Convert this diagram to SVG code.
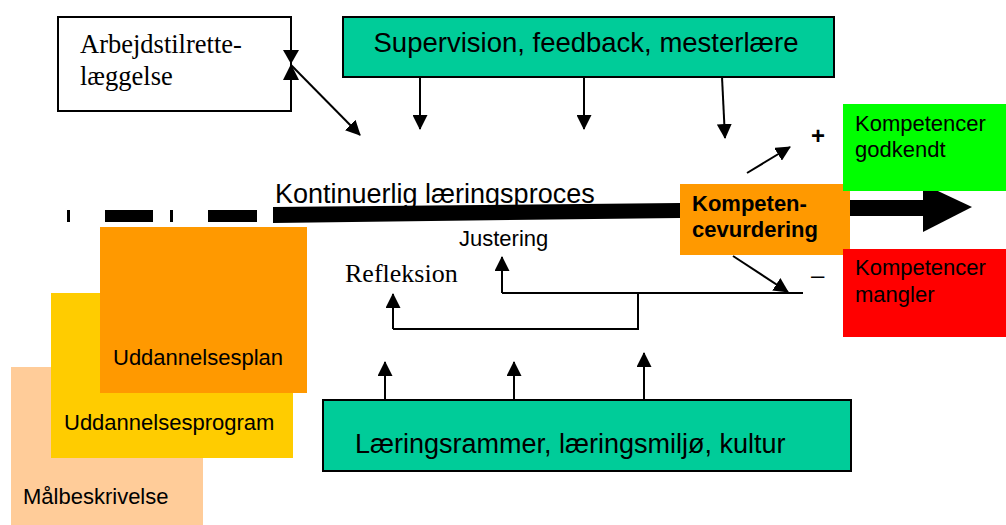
<svg xmlns="http://www.w3.org/2000/svg" width="1006" height="525" viewBox="0 0 1006 525">
<style>
.sans{font-family:"Liberation Sans",Arial,sans-serif;fill:#000}
.serif{font-family:"Liberation Serif","Times New Roman",serif;fill:#000}
.ln{stroke:#000;stroke-width:2;fill:none}
.teal{fill:#00CC99;stroke:#000;stroke-width:2}
</style>
<defs>
<marker id="ah" markerWidth="15" markerHeight="15" refX="14" refY="7.5" orient="auto" markerUnits="userSpaceOnUse">
<path d="M0,0 L15,7.5 L0,15 Z" fill="#000"/>
</marker>
</defs>
<rect width="1006" height="525" fill="#fff"/>

<g id="malbeskrivelse">
<rect x="11" y="367" width="192" height="158" fill="#FFCC99"/>
<text class="sans" x="23" y="504" font-size="22">Målbeskrivelse</text>
</g>
<g id="uddannelsesprogram">
<rect x="51" y="293" width="242" height="165" fill="#FFCC00"/>
<text class="sans" x="64" y="430" font-size="22">Uddannelsesprogram</text>
</g>
<g id="uddannelsesplan">
<rect x="100" y="227" width="207" height="166" fill="#FF9900"/>
<text class="sans" x="113" y="365" font-size="22">Uddannelsesplan</text>
</g>

<g id="arbejdstilrettelaeggelse">
<rect x="58" y="17" width="233" height="94" fill="#fff" stroke="#000" stroke-width="2"/>
<text class="serif" x="80" y="53" font-size="26.5">Arbejdstilrette-</text>
<text class="serif" x="80" y="85" font-size="26.5">læggelse</text>
</g>

<g id="supervision">
<rect class="teal" x="343" y="17" width="491" height="60"/>
<text class="sans" x="586" y="52" font-size="27.5" text-anchor="middle">Supervision, feedback, mesterlære</text>
</g>

<g id="laeringsrammer">
<rect class="teal" x="323" y="400" width="528" height="71"/>
<text class="sans" x="355" y="453" font-size="27">Læringsrammer, læringsmiljø, kultur</text>
</g>

<g id="proces">
<text class="sans" x="275" y="203" font-size="27">Kontinuerlig læringsproces</text>
<rect x="67" y="210" width="3" height="12" fill="#000"/>
<rect x="105" y="210" width="48" height="12" fill="#000"/>
<rect x="170" y="210" width="3" height="12" fill="#000"/>
<rect x="208" y="210" width="49" height="12" fill="#000"/>
<polygon points="273,207 680,203 680,218 273,223" fill="#000"/>
<rect x="850" y="200" width="74" height="16" fill="#000"/>
<polygon points="923,184 972,207 923,232" fill="#000"/>
</g>

<g id="kompetencevurdering">
<rect x="680" y="184" width="170" height="71" fill="#FF9900"/>
<text class="sans" x="692" y="211" font-size="22" font-weight="bold">Kompeten-</text>
<text class="sans" x="692" y="237" font-size="22" font-weight="bold">cevurdering</text>
</g>

<g id="godkendt">
<rect x="843" y="104" width="163" height="87" fill="#00FF00"/>
<text class="sans" x="855" y="131" font-size="22">Kompetencer</text>
<text class="sans" x="855" y="157" font-size="22">godkendt</text>
</g>

<g id="mangler">
<rect x="843" y="249" width="163" height="88" fill="#FF0000"/>
<text class="sans" x="855" y="275" font-size="22">Kompetencer</text>
<text class="sans" x="855" y="302" font-size="22">mangler</text>
</g>

<g id="labels">
<text class="sans" x="811" y="144" font-size="24" font-weight="bold">+</text>
<text class="sans" x="811" y="283" font-size="24">–</text>
<text class="sans" x="459" y="246" font-size="22">Justering</text>
<text class="serif" x="345" y="282" font-size="26">Refleksion</text>
</g>

<g id="connectors">
<polygon points="283,50 299,50 291,64" fill="#000"/>
<polygon points="283,80 299,80 291,64" fill="#000"/>
<line class="ln" x1="291" y1="65" x2="360" y2="135" marker-end="url(#ah)"/>
<line class="ln" x1="420" y1="77" x2="420" y2="129" marker-end="url(#ah)"/>
<line class="ln" x1="584" y1="77" x2="584" y2="129" marker-end="url(#ah)"/>
<line class="ln" x1="722" y1="77" x2="725" y2="138" marker-end="url(#ah)"/>
<line class="ln" x1="747" y1="173" x2="790" y2="147" marker-end="url(#ah)"/>
<line class="ln" x1="733" y1="256" x2="788" y2="292" marker-end="url(#ah)"/>
<line class="ln" x1="803" y1="293" x2="502" y2="293"/>
<line class="ln" x1="502" y1="293" x2="502" y2="257" marker-end="url(#ah)"/>
<polyline class="ln" points="638,293 638,329 393,329"/>
<line class="ln" x1="393" y1="329" x2="393" y2="294" marker-end="url(#ah)"/>
<line class="ln" x1="385" y1="400" x2="385" y2="362" marker-end="url(#ah)"/>
<line class="ln" x1="514" y1="400" x2="514" y2="362" marker-end="url(#ah)"/>
<line class="ln" x1="644" y1="400" x2="644" y2="353" marker-end="url(#ah)"/>
</g>
</svg>
